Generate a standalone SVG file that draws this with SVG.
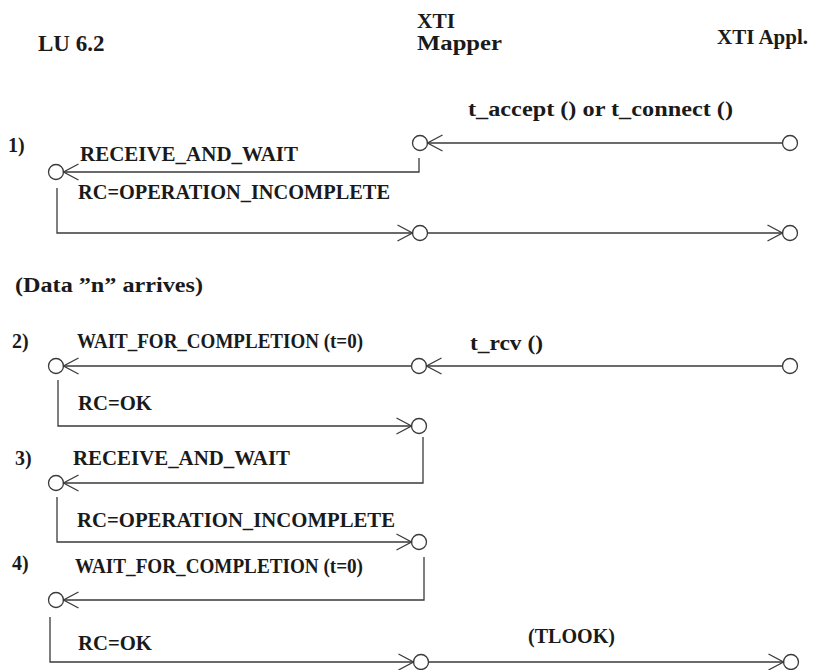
<svg xmlns="http://www.w3.org/2000/svg" width="825" height="670" viewBox="0 0 825 670">
<style>
text{font-family:"Liberation Serif","Times New Roman",serif;font-weight:bold;fill:#1a1a1a;font-size:20px}
.hd{font-size:22px}
.ln{fill:none;stroke:#3a3a3a;stroke-width:1.3}
.c{fill:#fff;stroke:#3a3a3a;stroke-width:1.3}
</style>
<defs>
<marker id="ah" markerUnits="userSpaceOnUse" markerWidth="20" markerHeight="20" viewBox="-17 -10 20 20" refX="0" refY="0" orient="auto">
<path d="M-15,-8 L0,0 L-15,8" fill="none" stroke="#3a3a3a" stroke-width="1.3"/>
</marker>
</defs>
<rect width="825" height="670" fill="#fff"/>
<g id="lu62">
<text class="hd" x="38" y="51" style="font-size:23px">LU 6.2</text>
<circle class="c" cx="56" cy="172" r="7.5"/>
<circle class="c" cx="56" cy="366" r="7.5"/>
<circle class="c" cx="56" cy="483" r="7.5"/>
<circle class="c" cx="56" cy="600" r="7.5"/>
</g>
<g id="mapper">
<text x="417" y="28" textLength="38" lengthAdjust="spacingAndGlyphs" style="font-size:20.5px">XTI</text>
<text x="417" y="50" textLength="85" lengthAdjust="spacingAndGlyphs" style="font-size:20.5px">Mapper</text>
<circle class="c" cx="420" cy="143" r="7.5"/>
<circle class="c" cx="420" cy="233" r="7.5"/>
<circle class="c" cx="419" cy="366" r="7.5"/>
<circle class="c" cx="419" cy="426" r="7.5"/>
<circle class="c" cx="419" cy="542" r="7.5"/>
<circle class="c" cx="421" cy="662" r="7.5"/>
</g>
<g id="appl">
<text class="hd" x="717" y="44" style="font-size:21px">XTI Appl.</text>
<circle class="c" cx="790" cy="143" r="7.5"/>
<circle class="c" cx="790" cy="233" r="7.5"/>
<circle class="c" cx="790" cy="366" r="7.5"/>
<circle class="c" cx="791" cy="662" r="7.5"/>
</g>
<g id="connectors">
<path class="ln" d="M782.5,143 H427.5" marker-end="url(#ah)"/>
<path class="ln" d="M419,158 V172 H63.5" marker-end="url(#ah)"/>
<path class="ln" d="M57,188 V233 H412.5" marker-end="url(#ah)"/>
<path class="ln" d="M427.5,233 H782.5" marker-end="url(#ah)"/>
<path class="ln" d="M782.5,366 H426.5" marker-end="url(#ah)"/>
<path class="ln" d="M411.5,366 H63.5" marker-end="url(#ah)"/>
<path class="ln" d="M58,380 V426 H411.5" marker-end="url(#ah)"/>
<path class="ln" d="M423,437 V483 H63.5" marker-end="url(#ah)"/>
<path class="ln" d="M57,497 V542 H411.5" marker-end="url(#ah)"/>
<path class="ln" d="M424,557 V600 H63.5" marker-end="url(#ah)"/>
<path class="ln" d="M50,617 V662 H413.5" marker-end="url(#ah)"/>
<path class="ln" d="M428.5,662 H783.5" marker-end="url(#ah)"/>
</g>
<g id="labels">
<text x="8" y="152">1)</text>
<text x="80" y="161" textLength="218" lengthAdjust="spacingAndGlyphs">RECEIVE_AND_WAIT</text>
<text x="468" y="116" textLength="265" lengthAdjust="spacingAndGlyphs">t_accept () or t_connect ()</text>
<text x="78" y="199" textLength="312" lengthAdjust="spacingAndGlyphs">RC=OPERATION_INCOMPLETE</text>
<text x="15" y="292" textLength="188" lengthAdjust="spacingAndGlyphs">(Data ”n” arrives)</text>
<text x="12" y="348">2)</text>
<text x="77" y="348" textLength="286" lengthAdjust="spacingAndGlyphs">WAIT_FOR_COMPLETION (t=0)</text>
<text x="470" y="350" textLength="73" lengthAdjust="spacingAndGlyphs">t_rcv ()</text>
<text x="78" y="410" textLength="74" lengthAdjust="spacingAndGlyphs">RC=OK</text>
<text x="15" y="465">3)</text>
<text x="73" y="465" textLength="217" lengthAdjust="spacingAndGlyphs">RECEIVE_AND_WAIT</text>
<text x="77" y="527" textLength="318" lengthAdjust="spacingAndGlyphs">RC=OPERATION_INCOMPLETE</text>
<text x="12" y="570">4)</text>
<text x="75" y="573" textLength="288" lengthAdjust="spacingAndGlyphs">WAIT_FOR_COMPLETION (t=0)</text>
<text x="78" y="650" textLength="74" lengthAdjust="spacingAndGlyphs">RC=OK</text>
<text x="528" y="643" textLength="87" lengthAdjust="spacingAndGlyphs">(TLOOK)</text>
</g>
</svg>
